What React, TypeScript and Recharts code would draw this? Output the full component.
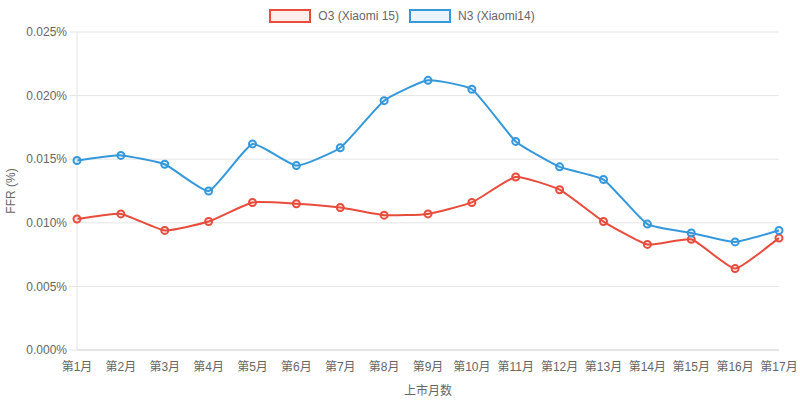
import React from 'react';
import { LineChart, Line, XAxis, YAxis, CartesianGrid, Legend, Label } from 'recharts';

const months = ['第1月','第2月','第3月','第4月','第5月','第6月','第7月','第8月','第9月','第10月','第11月','第12月','第13月','第14月','第15月','第16月','第17月'];
const o3Values = [0.0103,0.0107,0.0094,0.0101,0.0116,0.0115,0.0112,0.0106,0.0107,0.0116,0.0136,0.0126,0.0101,0.0083,0.0087,0.0064,0.0088];
const n3Values = [0.0149,0.0153,0.0146,0.0125,0.0162,0.0145,0.0159,0.0196,0.0212,0.0205,0.0164,0.0144,0.0134,0.0099,0.0092,0.0085,0.0094];
const yTicks = [0, 0.005, 0.01, 0.015, 0.02, 0.025];

const RED = '#e74c3c';
const BLUE = '#3498db';
const RED_FILL = 'rgba(231,76,60,0.1)';
const BLUE_FILL = 'rgba(52,152,219,0.1)';

const data = months.map((m, i) => ({ month: m, o3: o3Values[i], n3: n3Values[i] }));

const FONT = '"Liberation Sans", Arial, "Noto Sans CJK SC", sans-serif';

const TENSION = 0.15;

// Chart.js-style spline curve factory (tension-based bezier)
function chartJsCurve(context: any) {
  let pts: number[][] = [];
  return {
    areaStart() {},
    areaEnd() {},
    lineStart() { pts = []; },
    point(x: number, y: number) { pts.push([+x, +y]); },
    lineEnd() {
      const n = pts.length;
      if (n === 0) return;
      const cps = pts.map((curr, i) => {
        const prev = pts[i - 1] || curr;
        const next = pts[i + 1] || curr;
        const d01 = Math.hypot(curr[0] - prev[0], curr[1] - prev[1]);
        const d12 = Math.hypot(next[0] - curr[0], next[1] - curr[1]);
        let s01 = d01 / (d01 + d12);
        let s12 = d12 / (d01 + d12);
        if (isNaN(s01)) s01 = 0;
        if (isNaN(s12)) s12 = 0;
        const fa = TENSION * s01;
        const fb = TENSION * s12;
        return {
          prev: [curr[0] - fa * (next[0] - prev[0]), curr[1] - fa * (next[1] - prev[1])],
          next: [curr[0] + fb * (next[0] - prev[0]), curr[1] + fb * (next[1] - prev[1])],
        };
      });
      context.moveTo(pts[0][0], pts[0][1]);
      for (let i = 1; i < n; i++) {
        const a = cps[i - 1].next;
        const b = cps[i].prev;
        context.bezierCurveTo(a[0], a[1], b[0], b[1], pts[i][0], pts[i][1]);
      }
    },
  };
}

const LegendContent = () => (
  <div style={{ display: 'flex', justifyContent: 'center', alignItems: 'center', fontFamily: FONT, fontSize: 12, color: '#666', height: 32, paddingLeft: 4 }}>
    <span style={{ display: 'inline-block', width: 38, height: 10, border: `2px solid ${RED}`, background: RED_FILL, marginRight: 7 }} />
    <span style={{ marginRight: 10 }}>O3 (Xiaomi 15)</span>
    <span style={{ display: 'inline-block', width: 38, height: 10, border: `2px solid ${BLUE}`, background: BLUE_FILL, marginRight: 7 }} />
    <span>N3 (Xiaomi14)</span>
  </div>
);

export default function App() {
  return (
    <div style={{ position: 'fixed', left: 0, top: 0, width: 800, height: 401, background: '#fff' }}>
      <LineChart width={800} height={401} data={data} margin={{ top: 0, right: 21, bottom: 0, left: 0 }}>
        <CartesianGrid vertical={false} stroke="#e5e5e5" />
        <XAxis
          dataKey="month"
          tickLine={false}
          axisLine={{ stroke: '#d9d9d9' }}
          tick={{ fill: '#666', fontSize: 12, fontFamily: FONT }}
          tickMargin={6}
          interval={0}
          height={51}
        >
          <Label value="上市月数" position="insideBottom" offset={6} style={{ fill: '#666', fontSize: 12, fontFamily: FONT }} />
        </XAxis>
        <YAxis
          domain={[0, 0.025]}
          ticks={yTicks}
          width={77}
          tickFormatter={(v: number) => v.toFixed(3) + '%'}
          tick={{ fill: '#666', fontSize: 12, fontFamily: FONT }}
          tickLine={{ stroke: '#e5e5e5' }}
          tickSize={8}
          tickMargin={2}
          axisLine={{ stroke: '#e5e5e5' }}
        >
          <Label value="FFR (%)" angle={-90} position="insideLeft" offset={11} style={{ fill: '#666', fontSize: 12, fontFamily: FONT, textAnchor: 'middle' }} />
        </YAxis>
        <Legend verticalAlign="top" align="center" wrapperStyle={{ top: 0, left: 0, width: 800 }} content={<LegendContent />} />
        <Line type={chartJsCurve as any} dataKey="o3" stroke={RED} strokeWidth={2} dot={{ r: 3.5, stroke: RED, strokeWidth: 2, fill: RED_FILL }} isAnimationActive={false} />
        <Line type={chartJsCurve as any} dataKey="n3" stroke={BLUE} strokeWidth={2} dot={{ r: 3.5, stroke: BLUE, strokeWidth: 2, fill: BLUE_FILL }} isAnimationActive={false} />
      </LineChart>
    </div>
  );
}
